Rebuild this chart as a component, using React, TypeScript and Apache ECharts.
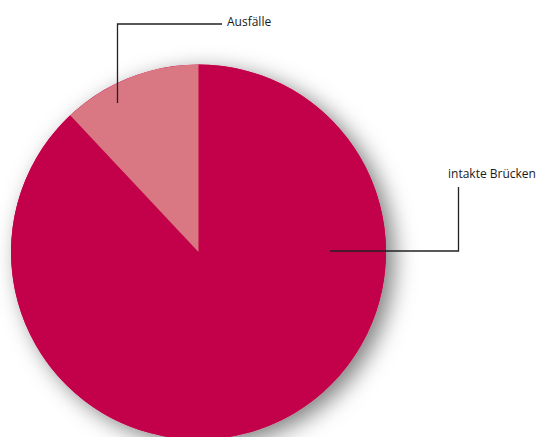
import React, { useEffect, useRef } from "react";
import * as echarts from "echarts";

const categories = ["intakte Brücken", "Ausfälle"];
const values = [88, 12];
const colors = ["#C3004A", "#D97882"];

// label anchor layout (pixels) for leader lines
const labelAnchors = [
  { x: 448, y: 173, line: [[330, 251], [458.5, 251], [458.5, 187]] },
  { x: 227, y: 21, line: [[117.5, 103], [117.5, 24], [222, 24]] },
];

export default function App() {
  const ref = useRef<HTMLDivElement>(null);
  useEffect(() => {
    if (!ref.current) return;
    const chart = echarts.init(ref.current, undefined, { renderer: "svg" });
    chart.setOption({
      animation: false,
      backgroundColor: "#ffffff",
      graphic: labelAnchors.map((a) => ({
        type: "polyline",
        z: 100,
        silent: true,
        shape: { points: a.line },
        style: { stroke: "#222", lineWidth: 1.3, fill: null },
      })),
      series: [
        {
          type: "pie",
          silent: true,
          center: [198.5, 252],
          radius: 187.5,
          label: { show: false },
          labelLine: { show: false },
          itemStyle: {
            color: "#C3004A",
            shadowBlur: 22,
            shadowColor: "rgba(0,0,0,0.5)",
            shadowOffsetX: 8,
            shadowOffsetY: 6,
          },
          data: [{ value: 1, name: "bg" }],
          z: 1,
        },
        {
          type: "pie",
          center: [198.5, 252],
          radius: 187.5,
          startAngle: 90,
          clockwise: true,
          z: 2,
          data: categories.map((c, i) => ({
            name: c,
            value: values[i],
            itemStyle: { color: colors[i] },
          })),
          label: {
            show: true,
            position: "outside",
            formatter: "{b}",
            color: "#1a1a1a",
            fontSize: 12,
            fontFamily: "Open Sans",
            align: "left",
            verticalAlign: "middle",
          },
          labelLine: { show: false },
          emphasis: { disabled: true },
          labelLayout: (params: any) => {
            const a = labelAnchors[params.dataIndex];
            return { x: a.x, y: a.y, align: "left", verticalAlign: "middle" };
          },
        },
      ],
    });
    return () => chart.dispose();
  }, []);
  return <div ref={ref} style={{ width: 541, height: 437, position: "absolute", left: 0, top: 0 }} />;
}
